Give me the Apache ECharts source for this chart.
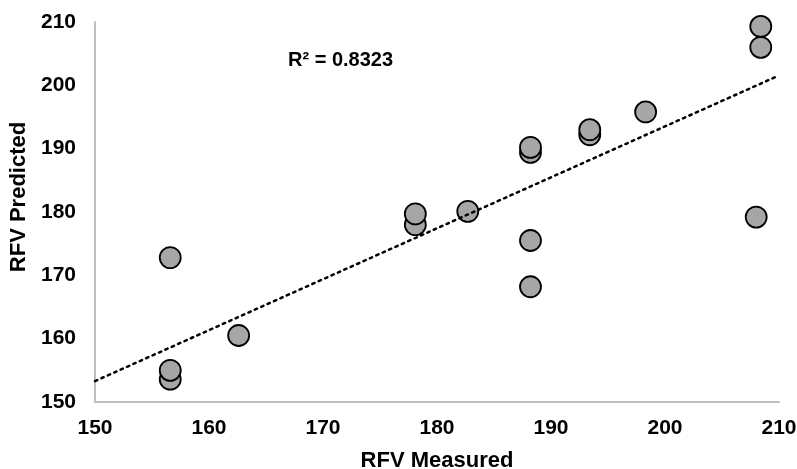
<!DOCTYPE html>
<html>
	<head>
		<meta charset="utf-8">
		<script type="text/javascript" src="https://cdn.jsdelivr.net/npm/echarts@6/dist/echarts.min.js"></script>
		<style>
			html, body { margin: 0; padding: 0; background: #fff; }
		</style>
	</head>
	<body>
		<div id="main" style="width:797px;height:469px;"></div>

		<script type="text/javascript">
			// measured (x) vs predicted (y)
			var measured  = [156.6, 156.6, 156.6, 162.6, 178.1, 178.1, 182.7, 188.2, 188.2, 188.2, 188.2, 193.4, 193.4, 198.3, 208.0, 208.4, 208.4];
			var predicted = [172.8, 153.6, 155.0, 160.5, 178.0, 179.7, 180.1, 168.2, 175.5, 189.4, 190.2, 192.2, 193.0, 195.8, 179.2, 206.0, 209.3];

			// trend line ends
			var trendX = [150, 209.8];
			var trendY = [153.3, 201.4];

			var axisTicks = [150, 160, 170, 180, 190, 200, 210];
			var r2Text = 'R² = 0.8323';

			var points = measured.map(function (x, i) { return [x, predicted[i]]; });
			var trend = trendX.map(function (x, i) { return [x, trendY[i]]; });

			var myChart = echarts.init(document.getElementById('main'));

			var fam = 'Arial, "Liberation Sans", sans-serif';
			var tickFont = { color: '#000', fontWeight: 'bold', fontSize: 21, fontFamily: fam };
			var nameFont = { color: '#000', fontWeight: 'bold', fontSize: 22, fontFamily: fam };

			var option = {
				animation: false,
				grid: { left: 95, right: 18, top: 22, bottom: 67, outerBoundsMode: 'none' },
				xAxis: {
					type: 'value',
					min: axisTicks[0],
					max: axisTicks[axisTicks.length - 1],
					interval: 10,
					name: 'RFV Measured',
					nameLocation: 'middle',
					nameGap: 48,
					nameTextStyle: nameFont,
					axisLine: { lineStyle: { color: '#bfbfbf', width: 2 } },
					axisTick: { show: false },
					splitLine: { show: false },
					axisLabel: Object.assign({ margin: 16 }, tickFont)
				},
				yAxis: {
					type: 'value',
					min: axisTicks[0],
					max: axisTicks[axisTicks.length - 1],
					interval: 10,
					name: 'RFV Predicted',
					nameLocation: 'middle',
					nameGap: 62,
					nameTextStyle: Object.assign({ padding: [0, 0, 0, 30] }, nameFont),
					axisLine: { show: true, lineStyle: { color: '#bfbfbf', width: 2 } },
					axisTick: { show: false },
					splitLine: { show: false },
					axisLabel: Object.assign({ margin: 19 }, tickFont)
				},
				graphic: [{
					type: 'text',
					left: 288,
					top: 50,
					style: {
						text: r2Text,
						fill: '#000',
						font: 'bold 20px ' + fam
					}
				}],
				series: [
					{
						type: 'scatter',
						data: points,
						symbolSize: 21,
						itemStyle: { color: '#a6a6a6', borderColor: '#000', borderWidth: 1.8, opacity: 1 }
					},
					{
						type: 'line',
						data: trend,
						symbol: 'none',
						z: 5,
						lineStyle: { color: '#000', width: 2.5, type: [2.5, 4.5], cap: 'round' }
					}
				]
			};

			myChart.setOption(option);
		</script>
	</body>
</html>
